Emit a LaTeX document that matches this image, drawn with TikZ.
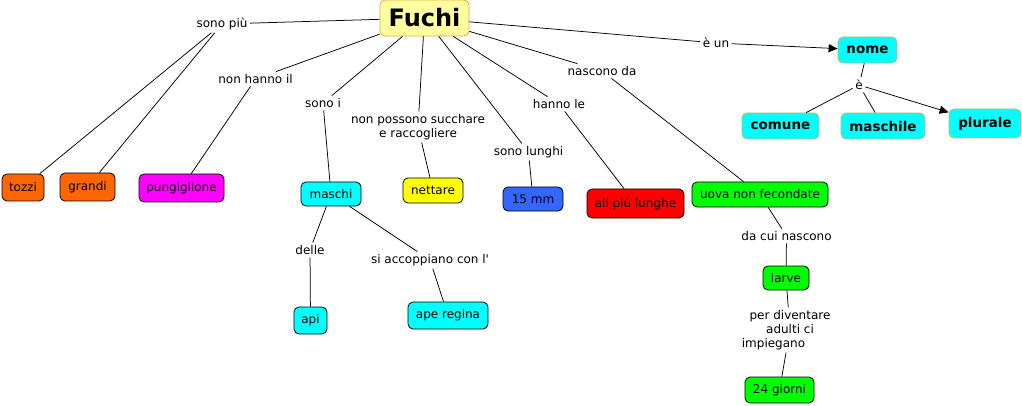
\documentclass[tikz,border=0pt]{standalone}
\usepackage{fontspec}
\setmainfont{DejaVu Sans}[Ligatures=TeXOff]
\usetikzlibrary{arrows.meta}
\definecolor{fuchifill}{RGB}{255,255,160}
\definecolor{fuchiborder}{RGB}{232,163,61}
\definecolor{tanborder}{RGB}{200,180,100}
\definecolor{cyanfill}{RGB}{0,255,255}
\definecolor{orangefill}{RGB}{255,102,0}
\definecolor{magentafill}{RGB}{255,0,255}
\definecolor{yellowfill}{RGB}{255,255,0}
\definecolor{bluefill}{RGB}{51,102,255}
\definecolor{redfill}{RGB}{255,0,0}
\definecolor{greenfill}{RGB}{0,255,0}
\tikzset{
  box/.style={draw=black, rounded corners=5pt, inner sep=0pt, line width=0.8pt,
    font=\fontsize{12}{14}\selectfont},
  bbox/.style={box, draw=tanborder, font=\fontsize{13.5}{16}\selectfont\bfseries},
  lbl/.style={inner sep=2.5pt, font=\fontsize{12}{14}\selectfont, align=center},
  conn/.style={line width=0.75pt, black},
  arr/.style={conn, -{Triangle[length=9pt,width=8pt]}},
}
\begin{document}
\begin{tikzpicture}[x=1pt,y=-1pt]
\fill[white] (0,0) rectangle (1022,406);
\useasboundingbox (0,0) rectangle (1022,406);
% concept nodes
\node[box, draw=fuchiborder, fill=fuchifill, minimum width=89pt, minimum height=36pt,
  font=\fontsize{24}{28}\selectfont\bfseries] (fuchi) at (424.5,18) {Fuchi};
\node[bbox, fill=cyanfill, minimum width=59pt, minimum height=26pt] (nome) at (867.5,50) {nome};
\node[bbox, fill=cyanfill, minimum width=77pt, minimum height=26pt] (comune) at (780.5,126) {comune};
\node[bbox, fill=cyanfill, minimum width=84pt, minimum height=26pt] (maschile) at (883,126) {maschile};
\node[bbox, fill=cyanfill, minimum width=72pt, minimum height=29pt] (plurale) at (985,123.5) {plurale};
\node[box, fill=orangefill, minimum width=42pt, minimum height=27pt] (tozzi) at (23,187.5) {tozzi};
\node[box, fill=orangefill, minimum width=55pt, minimum height=28pt] (grandi) at (87.5,187) {grandi};
\node[box, fill=magentafill, minimum width=85pt, minimum height=28pt] (pung) at (181.5,188) {pungiglione};
\node[box, fill=cyanfill, minimum width=60pt, minimum height=24pt] (maschi) at (331,194) {maschi};
\node[box, fill=yellowfill, minimum width=60pt, minimum height=25pt] (nettare) at (433,190.5) {nettare};
\node[box, fill=cyanfill, minimum width=33pt, minimum height=27pt] (api) at (310.5,320.5) {api};
\node[box, fill=cyanfill, minimum width=80pt, minimum height=27pt] (regina) at (448,315.5) {ape regina};
\node[box, fill=bluefill, minimum width=60pt, minimum height=24pt] (mm) at (533,199) {15 mm};
\node[box, fill=redfill, minimum width=97pt, minimum height=29pt] (ali) at (635.5,203.5) {ali più lunghe};
\node[box, fill=greenfill, minimum width=136pt, minimum height=25pt] (uova) at (760,194.5) {uova non fecondate};
\node[box, fill=greenfill, minimum width=46pt, minimum height=24pt] (larve) at (786,278) {larve};
\node[box, fill=greenfill, minimum width=69pt, minimum height=26pt] (giorni) at (779.5,390) {24 giorni};
% linking phrases
\node[lbl] (sonopiu) at (222,24) {sono più};
\node[lbl] (nonhanno) at (255.5,79) {non hanno il};
\node[lbl] (sonoi) at (323,103) {sono i};
\node[lbl] (nonposs) at (418,127) {non possono succhare\\e raccogliere};
\node[lbl] (lunghi) at (528.5,152) {sono lunghi};
\node[lbl] (hannole) at (559,104) {hanno le};
\node[lbl] (nascono) at (602,71) {nascono da};
\node[lbl] (eun) at (716,43) {è un};
\node[lbl] (e) at (859,85) {è};
\node[lbl] (delle) at (310,250) {delle};
\node[lbl] (accopp) at (430,260) {si accoppiano con l'};
\node[lbl] (dacui) at (786.5,236) {da cui nascono};
\node[lbl] (perdiv) at (790,330) {per diventare\\adulti ci\\impiegano\hspace*{33pt}};
% connectors
\draw[conn] (fuchi) -- (sonopiu);
\draw[conn] (sonopiu) -- (tozzi);
\draw[conn] (sonopiu) -- (grandi);
\draw[conn] (fuchi) -- (nonhanno);
\draw[conn] (nonhanno) -- (pung);
\draw[conn] (fuchi) -- (sonoi);
\draw[conn] (sonoi) -- (maschi);
\draw[conn] (fuchi) -- (nonposs);
\draw[conn] (nonposs) -- (nettare);
\draw[conn] (fuchi) -- (lunghi);
\draw[conn] (lunghi) -- (mm);
\draw[conn] (fuchi) -- (hannole);
\draw[conn] (hannole) -- (ali);
\draw[conn] (fuchi) -- (nascono);
\draw[conn] (nascono) -- (uova);
\draw[conn] (fuchi) -- (eun);
\draw[arr] (eun) -- (nome);
\draw[conn] (nome) -- (e);
\draw[conn] (e) -- (comune);
\draw[conn] (e) -- (maschile);
\draw[arr] (e) -- (plurale);
\draw[conn] (maschi) -- (delle);
\draw[conn] (delle) -- (api);
\draw[conn] (maschi) -- (accopp);
\draw[conn] (accopp) -- (regina);
\draw[conn] (uova) -- (dacui);
\draw[conn] (dacui) -- (larve);
\draw[conn] (larve) -- (perdiv);
\draw[conn] (perdiv) -- (giorni);
\end{tikzpicture}
\end{document}
